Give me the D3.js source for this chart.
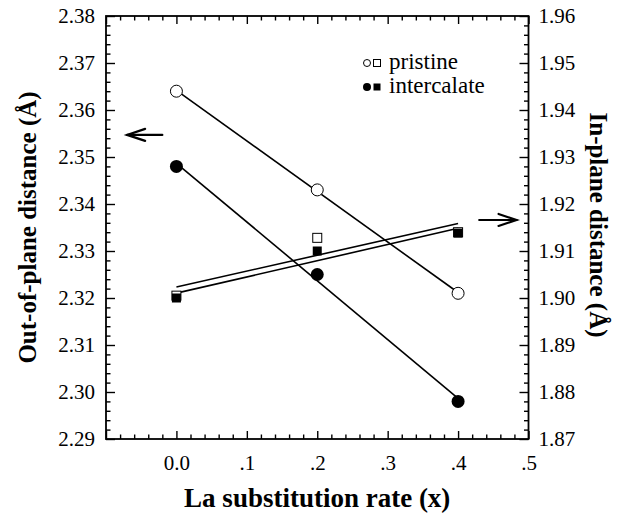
<!DOCTYPE html>
<html>
<head>
<meta charset="utf-8">
<script src="https://cdn.jsdelivr.net/npm/d3@7"></script>
<style>
  html, body { margin: 0; padding: 0; background: #fff; }
  svg { display: block; }
  text { font-family: "Liberation Serif", "Times New Roman", serif; fill: #000; }
</style>
</head>
<body>
<svg id="chart" width="623" height="514"></svg>
<script>
// La substitution rate x
const xValues = [0.0, 0.2, 0.4];

// Out-of-plane distance (left axis, circles)
const outPristine    = [2.364, 2.343, 2.321];
const outIntercalate = [2.348, 2.325, 2.298];

// In-plane distance (right axis, squares)
const inPristine    = [1.9005, 1.9128, 1.9140];
const inIntercalate = [1.9000, 1.9100, 1.9138];

// Tick values and labels
const xMajor = [-0.1, 0.0, 0.1, 0.2, 0.3, 0.4, 0.5];
const xTickLabels = ["", "0.0", ".1", ".2", ".3", ".4", ".5"];
const yLeftMajor = [2.29, 2.30, 2.31, 2.32, 2.33, 2.34, 2.35, 2.36, 2.37, 2.38];
const yRightMajor = [1.87, 1.88, 1.89, 1.90, 1.91, 1.92, 1.93, 1.94, 1.95, 1.96];

const legendLabels = ["pristine", "intercalate"];

const svg = d3.select("#chart");
const L = 106, R = 528.5, T = 16, B = 439;

const x  = d3.scaleLinear().domain([-0.1, 0.5]).range([L, R]);
const yL = d3.scaleLinear().domain([2.29, 2.38]).range([B, T]);
const yR = d3.scaleLinear().domain([1.87, 1.96]).range([B, T]);

const xMinor  = d3.range(-0.1, 0.5001, 0.02).filter(v => !xMajor.some(m => Math.abs(m - v) < 1e-6));
const yLMinor = d3.range(2.29, 2.3801, 0.002).filter(v => !yLeftMajor.some(m => Math.abs(m - v) < 1e-6));
const yRMinor = d3.range(1.87, 1.9601, 0.002).filter(v => !yRightMajor.some(m => Math.abs(m - v) < 1e-6));

const fontTick = 21;

function styleAxis(g) {
  g.select(".domain").remove();
  g.selectAll(".tick line").attr("stroke", "#000").attr("stroke-width", 1.4);
  g.selectAll(".tick text").style("font-size", fontTick + "px").style("font-family", "Liberation Serif, serif");
}

// Major ticks with labels
const fmtX = v => xTickLabels[xMajor.findIndex(m => Math.abs(m - v) < 1e-9)];
svg.append("g").attr("transform", `translate(0,${B})`)
  .call(d3.axisBottom(x).tickValues(xMajor).tickFormat(fmtX).tickSizeInner(-8).tickSizeOuter(0).tickPadding(16))
  .call(styleAxis);
svg.append("g").attr("transform", `translate(0,${T})`)
  .call(d3.axisTop(x).tickValues(xMajor).tickFormat("").tickSizeInner(-8).tickSizeOuter(0))
  .call(styleAxis);
svg.append("g").attr("transform", `translate(${L},0)`)
  .call(d3.axisLeft(yL).tickValues(yLeftMajor).tickFormat(d3.format(".2f")).tickSizeInner(-9).tickSizeOuter(0).tickPadding(11))
  .call(styleAxis);
svg.append("g").attr("transform", `translate(${R},0)`)
  .call(d3.axisRight(yR).tickValues(yRightMajor).tickFormat(d3.format(".2f")).tickSizeInner(-9).tickSizeOuter(0).tickPadding(10))
  .call(styleAxis);

// Minor ticks
svg.append("g").attr("transform", `translate(0,${B})`)
  .call(d3.axisBottom(x).tickValues(xMinor).tickFormat("").tickSizeInner(-4.5).tickSizeOuter(0)).call(styleAxis);
svg.append("g").attr("transform", `translate(0,${T})`)
  .call(d3.axisTop(x).tickValues(xMinor).tickFormat("").tickSizeInner(-4.5).tickSizeOuter(0)).call(styleAxis);
svg.append("g").attr("transform", `translate(${L},0)`)
  .call(d3.axisLeft(yL).tickValues(yLMinor).tickFormat("").tickSizeInner(-4.5).tickSizeOuter(0)).call(styleAxis);
svg.append("g").attr("transform", `translate(${R},0)`)
  .call(d3.axisRight(yR).tickValues(yRMinor).tickFormat("").tickSizeInner(-4.5).tickSizeOuter(0)).call(styleAxis);

// Frame
svg.append("rect").attr("x", L).attr("y", T).attr("width", R - L).attr("height", B - T)
  .attr("fill", "none").attr("stroke", "#000").attr("stroke-width", 1.8);

// Least-squares line through a series
function fit(xs, ys) {
  const mx = d3.mean(xs), my = d3.mean(ys);
  const slope = d3.sum(xs, (v, i) => (v - mx) * (ys[i] - my)) / d3.sum(xs, v => (v - mx) ** 2);
  return v => my + slope * (v - mx);
}

const x0 = d3.min(xValues), x1 = d3.max(xValues);
const fits = [
  { f: fit(xValues, outPristine), y: yL },
  { f: fit(xValues, outIntercalate), y: yL },
  { f: fit(xValues, inPristine), y: yR },
  { f: fit(xValues, inIntercalate), y: yR }
];
fits.forEach(s => {
  svg.append("line")
    .attr("x1", x(x0)).attr("y1", s.y(s.f(x0)))
    .attr("x2", x(x1)).attr("y2", s.y(s.f(x1)))
    .attr("stroke", "#000").attr("stroke-width", 1.6);
});

// Markers
const sq = 9;
svg.append("g").selectAll("rect").data(xValues).join("rect")
  .attr("x", (d) => x(d) - sq / 2).attr("y", (d, i) => yR(inPristine[i]) - sq / 2)
  .attr("width", sq).attr("height", sq).attr("fill", "#fff").attr("stroke", "#000").attr("stroke-width", 1);
svg.append("g").selectAll("rect").data(xValues).join("rect")
  .attr("x", (d) => x(d) - sq / 2).attr("y", (d, i) => yR(inIntercalate[i]) - sq / 2)
  .attr("width", sq).attr("height", sq).attr("fill", "#000");
svg.append("g").selectAll("circle").data(xValues).join("circle")
  .attr("cx", d => x(d)).attr("cy", (d, i) => yL(outPristine[i])).attr("r", 6)
  .attr("fill", "#fff").attr("stroke", "#000").attr("stroke-width", 1);
svg.append("g").selectAll("circle").data(xValues).join("circle")
  .attr("cx", d => x(d)).attr("cy", (d, i) => yL(outIntercalate[i])).attr("r", 6.5)
  .attr("fill", "#000");

// Arrows pointing to the matching axis
function arrow(xTail, xTip, yPix) {
  const dir = Math.sign(xTip - xTail);
  const g = svg.append("g").attr("stroke", "#000").attr("stroke-width", 2.2).attr("fill", "none")
    .attr("stroke-linecap", "round");
  g.append("line").attr("x1", xTail).attr("y1", yPix).attr("x2", xTip).attr("y2", yPix);
  g.append("path").attr("d", `M${xTip - dir * 18},${yPix - 6} L${xTip},${yPix} L${xTip - dir * 18},${yPix + 6}`);
}
arrow(x(-0.02), x(-0.07), yL(2.3547));
arrow(x(0.43), x(0.483), yR(1.9166));

// Legend
const legY = [63, 87];
const legFont = 23;
legendLabels.forEach((lab, i) => {
  const filled = i === 1;
  svg.append("circle").attr("cx", 367).attr("cy", legY[i]).attr("r", filled ? 4 : 3.5)
    .attr("fill", filled ? "#000" : "#fff").attr("stroke", "#000").attr("stroke-width", filled ? 0 : 1);
  svg.append("rect").attr("x", 373.5).attr("y", legY[i] - 3.5).attr("width", 7).attr("height", 7)
    .attr("fill", filled ? "#000" : "#fff").attr("stroke", "#000").attr("stroke-width", filled ? 0 : 1);
  svg.append("text").attr("x", 389).attr("y", legY[i] + 6).style("font-size", legFont + "px").text(lab);
});

// Axis titles
svg.append("text").attr("x", (L + R) / 2).attr("y", 507).attr("text-anchor", "middle")
  .style("font-size", "27px").style("font-weight", "bold").text("La substitution rate (x)");
svg.append("text").attr("transform", `translate(36,${(T + B) / 2}) rotate(-90)`).attr("text-anchor", "middle")
  .style("font-size", "25px").style("font-weight", "bold").text("Out-of-plane distance (Å)");
svg.append("text").attr("transform", `translate(590,225) rotate(90)`).attr("text-anchor", "middle")
  .style("font-size", "25px").style("font-weight", "bold").text("In-plane distance (Å)");
</script>
</body>
</html>
